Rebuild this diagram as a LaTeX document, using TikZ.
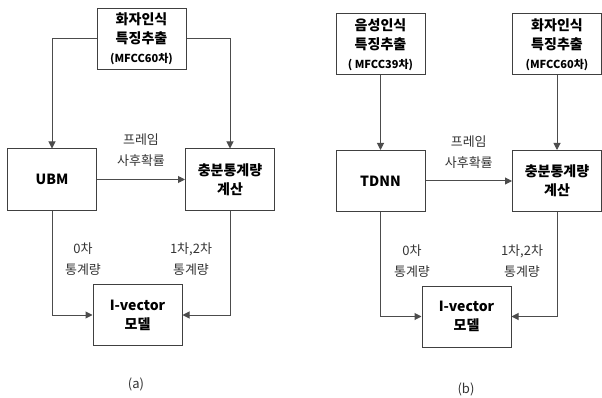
\documentclass[tikz,border=0pt]{standalone}
\usepackage{fontspec}
\setmainfont{Noto Sans CJK KR}
\usetikzlibrary{arrows.meta}
\tikzset{
  blk/.style={draw=black!75, line width=1pt, minimum width=89pt, minimum height=61pt,
    align=center, inner sep=0pt, font=\bfseries\fontsize{14}{19}\selectfont},
  lbl/.style={align=center, text=black!80, font=\fontsize{13}{21}\selectfont},
  conn/.style={draw=black!70, line width=1pt, -{Triangle[length=7pt,width=7pt]}}
}
\newcommand{\mfcc}[1]{{\fontsize{11}{14}\selectfont #1}}
\begin{document}
\begin{tikzpicture}[x=1pt,y=-1pt]
  \useasboundingbox (0,0) rectangle (602,398);
  % (a)
  \node[blk] (featA) at (141.5,39) {화자인식\\특징추출\\\mfcc{(MFCC60차)}};
  \node[blk] (ubm) at (52,179.5) {UBM};
  \node[blk] (statsA) at (230,179.5) {충분통계량\\계산};
  \node[blk] (ivecA) at (137.5,315) {I-vector\\모델};
  \node[lbl] (zeroA) at (83,259) {0차\\통계량};
  \node[lbl] (highA) at (191,259) {1차,2차\\통계량};
  \node[lbl] (capA) at (136,384) {(a)};
  \draw[conn] (featA.west) -| (ubm.north);
  \draw[conn] (featA.east) -| (statsA.north);
  \draw[conn] (ubm) -- node[lbl, above=9pt] {프레임\\사후확률} (statsA);
  \draw[conn] (ubm.south) |- (ivecA.west);
  \draw[conn] (statsA.south) |- (ivecA.east);
  % (b)
  \node[blk] (featB) at (380.5,44.5) {음성인식\\특징추출\\\mfcc{( MFCC39차)}};
  \node[blk] (featC) at (557,44.5) {화자인식\\특징추출\\\mfcc{(MFCC60차)}};
  \node[blk] (tdnn) at (380.5,181) {TDNN};
  \node[blk] (statsB) at (557,181) {충분통계량\\계산};
  \node[blk] (ivecB) at (466.5,316.5) {I-vector\\모델};
  \node[lbl] (zeroB) at (412,261) {0차\\통계량};
  \node[lbl] (highB) at (522,261) {1차,2차\\통계량};
  \node[lbl] (capB) at (466,389) {(b)};
  \draw[conn] (featB) -- (tdnn);
  \draw[conn] (featC) -- (statsB);
  \draw[conn] (tdnn) -- node[lbl, above=9pt] {프레임\\사후확률} (statsB);
  \draw[conn] (tdnn.south) |- (ivecB.west);
  \draw[conn] (statsB.south) |- (ivecB.east);
\end{tikzpicture}
\end{document}
